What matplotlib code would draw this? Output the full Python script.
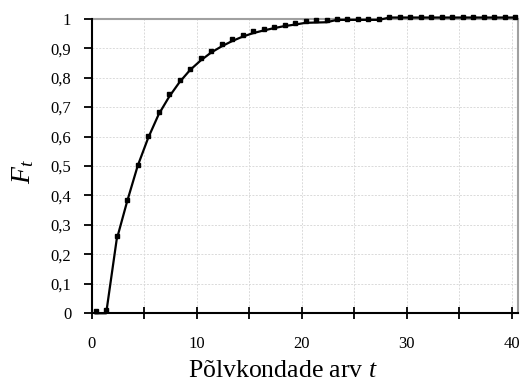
import matplotlib
matplotlib.use("Agg")
import matplotlib.pyplot as plt
from matplotlib.ticker import MultipleLocator, FuncFormatter

plt.rcParams['font.family'] = ['Liberation Serif', 'DejaVu Serif']
plt.rcParams['mathtext.fontset'] = 'custom'
plt.rcParams['mathtext.rm'] = 'Liberation Serif'
plt.rcParams['mathtext.it'] = 'Liberation Serif:italic'

# generation positions (as drawn)
gen_x = [k + 0.35 for k in range(41)]
# observed values (markers)
observed = [0.008, 0.010, 0.261, 0.383, 0.505, 0.601, 0.682, 0.743, 0.791, 0.830,
            0.865, 0.892, 0.913, 0.932, 0.946, 0.959, 0.966, 0.973, 0.980, 0.987,
            0.993, 0.995, 0.995, 1.000, 1.000, 1.000, 1.000, 1.000, 1.006, 1.006,
            1.006, 1.006, 1.006, 1.006, 1.006, 1.006, 1.006, 1.006, 1.006, 1.006,
            1.006]
# model curve (line)
model = [0.0, 0.0, 0.250, 0.380, 0.500, 0.595, 0.675, 0.735, 0.785, 0.826,
         0.858, 0.885, 0.906, 0.924, 0.939, 0.951, 0.960, 0.968, 0.975, 0.980,
         0.986, 0.987, 0.988, 0.996, 0.996, 0.996, 0.996, 0.996, 1.004, 1.004,
         1.004, 1.004, 1.004, 1.004, 1.004, 1.004, 1.004, 1.004, 1.004, 1.004,
         1.004]

W, H = 523, 382
fig = plt.figure(figsize=(W / 100, H / 100), dpi=100)
L, R, T, B = 92, 518, 18.7, 313.3
ax = fig.add_axes([L / W, (H - B) / H, (R - L) / W, (B - T) / H])

ax.set_xlim(0, 40.6)
ax.set_ylim(0, 1)

ax.xaxis.set_major_locator(MultipleLocator(5))
ax.yaxis.set_major_locator(MultipleLocator(0.1))
ax.xaxis.set_major_formatter(FuncFormatter(lambda v, p: f"{int(round(v))}" if int(round(v)) % 10 == 0 else ""))
def yfmt(v, p):
    s = f"{v:.1f}".replace('.', ',')
    if s.endswith(',0'):
        s = s[:-2]
    return s
ax.yaxis.set_major_formatter(FuncFormatter(yfmt))

ax.grid(True, color='#dadada', linestyle=(0, (2, 1.5)), linewidth=0.7)
ax.set_axisbelow(True)

ax.plot(gen_x, model, color='black', lw=1.6, clip_on=False, zorder=3)
ax.plot(gen_x, observed, linestyle='none', marker='s', ms=3.4, color='black',
        clip_on=False, zorder=4)

for s in ['left', 'bottom']:
    ax.spines[s].set_color('black')
    ax.spines[s].set_linewidth(1.5)
for s in ['top', 'right']:
    ax.spines[s].set_color('#a0a0a0')
    ax.spines[s].set_linewidth(1.5)
ax.spines['left'].set_zorder(5)
ax.spines['bottom'].set_zorder(5)

ax.tick_params(axis='x', direction='inout', length=9, width=1.3, pad=12, labelsize=12)
ax.tick_params(axis='y', direction='out', length=6, width=1.3, pad=9, labelsize=12)

fig.text(283 / W, 1 - 377 / H, "Põlvkondade arv $t$", ha='center', va='baseline', fontsize=18.5)
fig.text(23 / W, 1 - 172 / H, r"$F_t$", ha='center', va='center', rotation=90, fontsize=20)

fig.savefig("out.png", dpi=100)
